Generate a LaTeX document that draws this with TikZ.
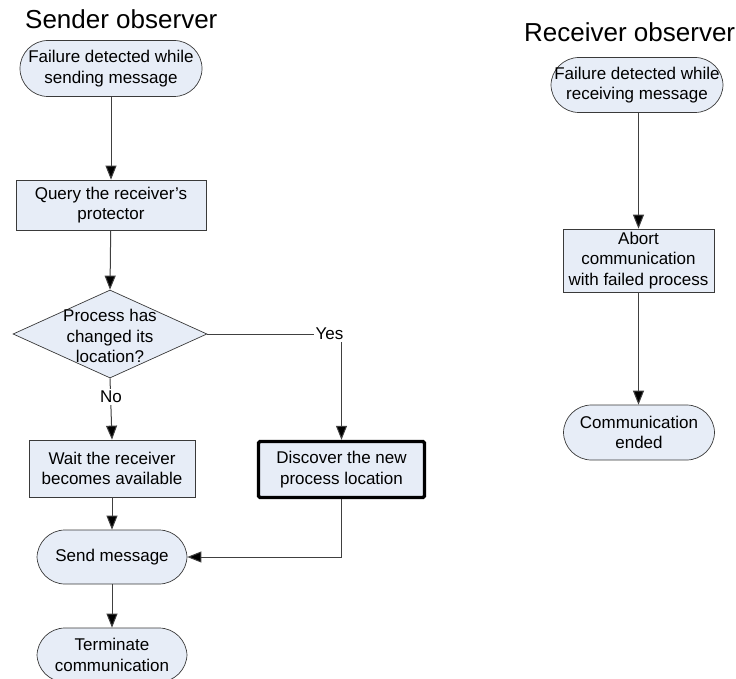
\documentclass[tikz,border=0pt]{standalone}
\usepackage{fontspec}
\setmainfont{Liberation Sans}
\usetikzlibrary{shapes.geometric,arrows.meta}

\definecolor{boxfill}{HTML}{E7EDF7}
\definecolor{boxline}{HTML}{3A3A3A}
\definecolor{wire}{HTML}{404040}

\begin{document}
\begin{tikzpicture}[x=1pt,y=-1pt,
  every node/.style={font=\fontsize{17}{20.5}\selectfont, align=center, inner sep=0pt},
  title/.style={font=\fontsize{26}{29}\selectfont, anchor=base west},
  terminal/.style={draw=boxline, fill=boxfill, line width=0.7pt, rectangle,
    minimum width=#1, minimum height=56pt, rounded corners=28pt},
  process/.style={draw=boxline, fill=boxfill, line width=0.7pt, rectangle},
  keyprocess/.style={draw=black, fill=boxfill, line width=3.4pt, rectangle, rounded corners=1.5pt},
  decision/.style={draw=boxline, fill=boxfill, line width=0.7pt, diamond,
    minimum width=194pt, minimum height=88pt},
  flow/.style={draw=wire, line width=1pt, -{Triangle[length=14pt,width=11pt,fill=black]}},
  plain/.style={draw=wire, line width=1pt},
  branch/.style={fill=white, inner xsep=2pt, inner ysep=2pt}]

\useasboundingbox (0,0) rectangle (736,679);

% Sender side
\node[title] (stitle) at (25,29) {Sender observer};
\node[terminal=182pt] (sfail) at (111,68.5) {Failure detected while\\sending message};
\node[process, minimum width=190pt, minimum height=50pt] (query) at (111,205) {Query the receiver’s\\protector};
\node[decision] (dec) at (110,334) {};
\node (dectext) at (110,336) {Process has\\changed its\\location?};
\node[process, minimum width=166pt, minimum height=57pt] (wait) at (112,468.5) {Wait the receiver\\becomes available};
\node[keyprocess, minimum width=166pt, minimum height=56pt] (disc) at (341.5,469.5) {Discover the new\\process location};
\node[terminal=150pt, minimum height=54pt] (send) at (112,557) {Send message};
\node[terminal=150pt, minimum height=54pt] (term) at (112,655) {Terminate\\communication};

\coordinate (yescorner) at (disc.north |- dec.east);
\coordinate (sendcorner) at (disc.south |- send.east);

\draw[flow] (sfail) -- (query);
\draw[flow] (query) -- (dec.north);
\draw[plain] (dec.east) -- (yescorner);
\draw[flow] (yescorner) -- (disc.north);
\node[branch] (yes) at ([xshift=-12pt]yescorner) {Yes};
\draw[flow] (dec.south) -- (wait.north);
\node[branch] (no) at (111,397) {No};
\draw[flow] (wait) -- (send);
\draw[plain] (disc.south) -- (sendcorner);
\draw[flow] (sendcorner) -- (send.east);
\draw[flow] (send) -- (term);

% Receiver side
\node[title] (rtitle) at (524,42) {Receiver observer};
\node[terminal=172pt, minimum height=55pt] (rfail) at (637,85) {Failure detected while\\receiving message};
\node[process, minimum width=151pt, minimum height=63pt] (abort) at (638.5,260.5) {Abort\\communication\\with failed process};
\node[terminal=151pt, minimum height=55pt] (ended) at (639,432.5) {Communication\\ended};

\draw[flow] (rfail.south -| abort.north) -- (abort.north);
\draw[flow] (abort.south) -- (abort.south |- ended.north);

\end{tikzpicture}
\end{document}
